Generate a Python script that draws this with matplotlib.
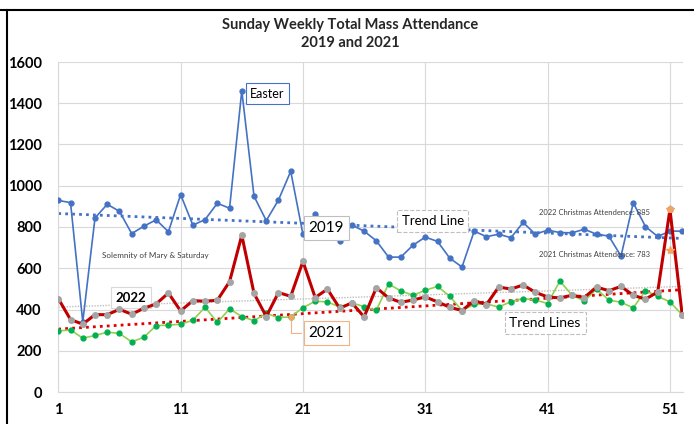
import numpy as np
import matplotlib
matplotlib.use("Agg")
import matplotlib.pyplot as plt
from matplotlib.lines import Line2D

plt.rcParams['font.family'] = ['Lato', 'DejaVu Sans']

# weekly attendance
weeks = np.arange(1, 53)
att_2019 = [929, 918, 340, 844, 910, 876, 768, 804, 835, 777,
            957, 809, 836, 915, 891, 1461, 949, 831, 931, 1070,
            764, 865, 800, 733, 809, 780, 733, 654, 654, 712,
            751, 730, 649, 606, 780, 753, 765, 748, 822, 765,
            785, 773, 772, 789, 765, 756, 659, 917, 802, 754,
            780, 780]
att_2021 = [296, 301, 261, 274, 290, 284, 243, 266, 322, 324,
            329, 348, 411, 337, 403, 366, 346, 381, 361, 364,
            409, 440, 437, 412, 432, 414, 396, 524, 490, 469,
            493, 512, 464, 395, 425, 427, 412, 438, 453, 446,
            429, 538, 469, 441, 499, 446, 435, 408, 491, 464,
            437, 374]
att_2022 = [453, 351, 329, 375, 375, 401, 377, 406, 427, 480,
            393, 443, 440, 445, 535, 760, 478, 366, 482, 464,
            633, 458, 499, 406, 432, 364, 506, 456, 435, 446,
            461, 437, 411, 395, 443, 424, 509, 499, 519, 483,
            461, 456, 469, 458, 509, 491, 512, 469, 450, 485,
            885, 374]
xmas_week = [51, 51]
xmas_marks = [887, 690]

title = "Sunday Weekly Total Mass Attendance\n2019 and 2021"
x_ticks = [1, 11, 21, 31, 41, 51]
y_ticks = list(range(0, 1601, 200))

fig = plt.figure(figsize=(6.94, 4.24), dpi=100)
ax = fig.add_axes([58.3 / 694, 1 - 392 / 424, (683.4 - 58.3) / 694, 330 / 424])

ax.grid(True, color="#D9D9D9", linewidth=0.8)
ax.set_axisbelow(True)

# trend lines
for vals, col, lw, ls in [(att_2019, "#4472C4", 2.0, (0, (1, 1.5))),
                          (att_2022, "#BFBFBF", 1.0, (0, (1, 1))),
                          (att_2021, "#E00000", 2.0, (0, (1, 1.5)))]:
    k, b = np.polyfit(weeks, vals, 1)
    ax.plot(weeks, k * weeks + b, color=col, linewidth=lw, linestyle=ls, zorder=2)

ax.plot(weeks, att_2019, color="#4472C4", linewidth=1.2, marker="o", markersize=3.5, zorder=3)
ax.plot(weeks, att_2021, color="#92D050", linewidth=1.2, marker="o", markersize=3.5,
        markerfacecolor="#00B050", markeredgecolor="#00B050", zorder=3)
ax.plot(weeks, att_2022, color="#C00000", linewidth=2.2, marker="o", markersize=4,
        markerfacecolor="#A5A5A5", markeredgecolor="#A5A5A5", zorder=4)
ax.plot(xmas_week, xmas_marks, linestyle="none", marker="*", color="#F4A460", markersize=6, zorder=5)
ax.plot([20], [att_2021[19]], linestyle="none", marker="s", color="#F4A460", markersize=3.5, zorder=5)

ax.set_xlim(1, 52.1)
ax.set_ylim(0, 1600)
ax.set_xticks(x_ticks)
ax.set_yticks(y_ticks)
ax.tick_params(length=0, labelsize=10.5)
ax.tick_params(axis="y", pad=12)
ax.tick_params(axis="x", pad=8)
for lbl in ax.get_xticklabels() + ax.get_yticklabels():
    lbl.set_fontweight("bold")
for s in ["top", "right"]:
    ax.spines[s].set_visible(False)
for s in ["left", "bottom"]:
    ax.spines[s].set_color("#D9D9D9")

# annotations
ax.text(18.1, 1447, "Easter", fontsize=9, ha="center", va="center",
        bbox=dict(boxstyle="square,pad=0.35", fc="white", ec="#4472C4", lw=0.8))
ax.text(22.9, 795, "2019", fontsize=11, ha="center", va="center",
        bbox=dict(boxstyle="square,pad=0.3", fc="white", ec="#BFBFBF", lw=0.8))
ax.text(31.6, 829, "Trend Line", fontsize=9.5, ha="center", va="center",
        bbox=dict(boxstyle="square,pad=0.35", fc="white", ec="#BFBFBF", lw=0.8, ls="--"))
ax.text(8.95, 664, "Solemnity of Mary & Saturday", fontsize=5.8, ha="center", va="center", color="#404040")
ax.text(6.95, 458, "2022", fontsize=9.5, fontweight="bold", ha="center", va="center",
        bbox=dict(boxstyle="square,pad=0.35", fc="white", ec="#D9D9D9", lw=0.8))
ax.annotate("2021", xy=(20, att_2021[19]), xytext=(22.9, 286), fontsize=11, ha="center", va="center",
            bbox=dict(boxstyle="square,pad=0.3", fc="white", ec="#F4B183", lw=0.8),
            arrowprops=dict(arrowstyle="-", color="#F4B183", lw=0.8,
                            connectionstyle="angle,angleA=0,angleB=90,rad=0"))
ax.text(40.8, 334, "Trend Lines", fontsize=10, ha="center", va="center",
        bbox=dict(boxstyle="square,pad=0.35", fc="white", ec="#BFBFBF", lw=0.8, ls="--"))
ax.text(49.4, 871, "2022 Christmas Attendence: 885", fontsize=5.5, ha="right", va="center", color="#404040")
ax.text(49.4, 667, "2021 Christmas Attendence: 783", fontsize=5.5, ha="right", va="center", color="#404040")

fig.text(0.505, 1 - 34 / 424, title, fontsize=10.5, fontweight="bold", ha="center", va="center",
         linespacing=1.35, color="#262626")

# outer frame edges
fig.add_artist(Line2D([0, 1], [1 - 9.5 / 424] * 2, color="black", lw=1.5, transform=fig.transFigure))
fig.add_artist(Line2D([6.5 / 694] * 2, [0, 1 - 9.5 / 424], color="black", lw=1.5, transform=fig.transFigure))

fig.savefig("out.png", dpi=100)
